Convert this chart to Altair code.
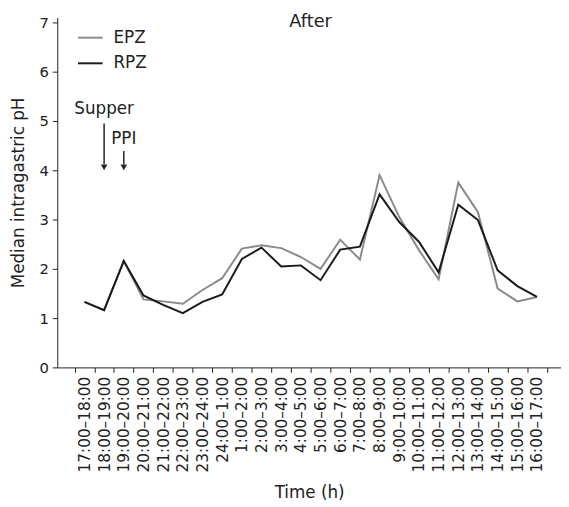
import altair as alt
import pandas as pd

times = ["17:00–18:00", "18:00–19:00", "19:00–20:00", "20:00–21:00", "21:00–22:00",
         "22:00–23:00", "23:00–24:00", "24:00–1:00", "1:00–2:00", "2:00–3:00",
         "3:00–4:00", "4:00–5:00", "5:00–6:00", "6:00–7:00", "7:00–8:00",
         "8:00–9:00", "9:00–10:00", "10:00–11:00", "11:00–12:00", "12:00–13:00",
         "13:00–14:00", "14:00–15:00", "15:00–16:00", "16:00–17:00"]
epz = [1.33, 1.16, 2.16, 1.38, 1.34, 1.29, 1.57, 1.81, 2.41, 2.48, 2.42, 2.24,
       2.00, 2.59, 2.19, 3.90, 3.05, 2.38, 1.79, 3.75, 3.15, 1.60, 1.34, 1.43]
rpz = [1.33, 1.16, 2.16, 1.46, 1.27, 1.10, 1.33, 1.48, 2.20, 2.43, 2.05, 2.07,
       1.77, 2.39, 2.45, 3.51, 2.95, 2.55, 1.93, 3.30, 2.99, 1.97, 1.65, 1.43]
series = ["EPZ", "RPZ"]
colors = ["#8a8a8a", "#1a1a1a"]

rows = []
for s, vals in zip(series, [epz, rpz]):
    for t, v in zip(times, vals):
        rows.append({"time": t, "series": s, "ph": v})
df = pd.DataFrame(rows)

FONT = "DejaVu Sans"

xscale = alt.Scale(domain=times, paddingInner=0, paddingOuter=0.8, align=0.55)
yscale = alt.Scale(domain=[0, 7.1], nice=False)

lines = alt.Chart(df).mark_line(strokeWidth=2).encode(
    x=alt.X("time:O", scale=xscale, sort=times, title="Time (h)",
            axis=alt.Axis(labelAngle=270, labelAlign="right", labelBaseline="middle",
                          tickBand="extent", tickSize=5, labelPadding=4,
                          titlePadding=13, labelFontSize=15.5, titleFontSize=17,
                          labelFont=FONT, titleFont=FONT, labelColor="#222",
                          titleColor="#222", domainColor="#222", tickColor="#222",
                          titleFontWeight="normal")),
    y=alt.Y("ph:Q", scale=yscale, title="Median intragastric pH",
            axis=alt.Axis(values=[0, 1, 2, 3, 4, 5, 6, 7], tickSize=5, labelPadding=4,
                          titlePadding=12, labelFontSize=15, titleFontSize=17,
                          labelFont=FONT, titleFont=FONT, labelColor="#222",
                          titleColor="#222", domainColor="#222", tickColor="#222",
                          grid=False, titleFontWeight="normal")),
    color=alt.Color("series:N", scale=alt.Scale(domain=series, range=colors),
                    legend=alt.Legend(title=None, orient="none", legendX=20, legendY=7,
                                      symbolType="stroke", symbolSize=625,
                                      symbolStrokeWidth=2, labelFontSize=17,
                                      labelFont=FONT, labelColor="#222",
                                      labelOffset=10, rowPadding=4)),
)

arrows = pd.DataFrame({
    "time": ["18:00–19:00", "19:00–20:00"],
    "y1": [4.95, 4.39],
    "y2": [4.12, 4.12],
    "tip": [4.06, 4.06],
})
rules = alt.Chart(arrows).mark_rule(color="#222", strokeWidth=1.5).encode(
    x=alt.X("time:O", scale=xscale, sort=times),
    y=alt.Y("y1:Q", scale=yscale),
    y2="y2:Q",
)
heads = alt.Chart(arrows).mark_point(shape="triangle-down", filled=True, color="#222",
                                     size=45, opacity=1).encode(
    x=alt.X("time:O", scale=xscale, sort=times),
    y=alt.Y("tip:Q", scale=yscale),
)

labels = pd.DataFrame({
    "time": ["18:00–19:00", "19:00–20:00"],
    "y": [5.24, 4.63],
    "text": ["Supper", "PPI"],
})
ann = alt.Chart(labels).mark_text(fontSize=17, font=FONT, color="#222",
                                  baseline="middle", align="center").encode(
    x=alt.X("time:O", scale=xscale, sort=times),
    y=alt.Y("y:Q", scale=yscale),
    text="text:N",
)

title = alt.Chart(pd.DataFrame({"t": ["After"]})).mark_text(
    fontSize=18, font=FONT, color="#222", baseline="middle", align="center"
).encode(x=alt.value(257), y=alt.value(5), text="t:N")

chart = alt.layer(lines, rules, heads, ann, title).properties(
    width=511, height=355,
    autosize=alt.AutoSizeParams(type="none"),
    padding={"left": 50, "top": 6, "right": 0, "bottom": 138},
).configure_view(stroke=None).configure_axisX(domainWidth=1).configure_axisY(domainWidth=1)

chart.save("out.html", embed_options={"renderer": "svg", "actions": False})
